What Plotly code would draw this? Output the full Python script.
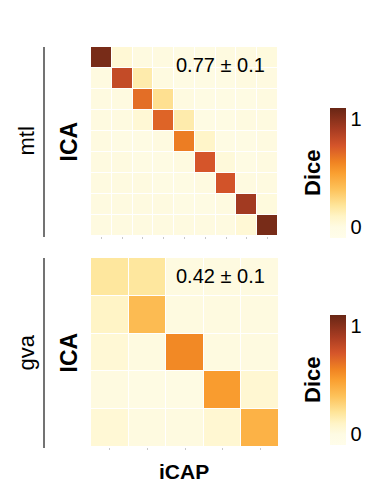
import plotly.graph_objects as go

# ---- data ----
mtl_dice = [
    [1.05, 0.05, 0.01, 0.01, 0.00, 0.00, 0.01, 0.01, 0.02],
    [0.01, 0.81, 0.16, 0.01, 0.00, 0.00, 0.00, 0.01, 0.01],
    [0.01, 0.01, 0.67, 0.22, 0.01, 0.00, 0.00, 0.00, 0.01],
    [0.01, 0.01, 0.05, 0.70, 0.16, 0.00, 0.00, 0.01, 0.01],
    [0.01, 0.00, 0.00, 0.01, 0.62, 0.09, 0.00, 0.00, 0.01],
    [0.01, 0.01, 0.00, 0.00, 0.01, 0.75, 0.03, 0.00, 0.01],
    [0.01, 0.01, 0.01, 0.00, 0.00, 0.01, 0.76, 0.01, 0.01],
    [0.01, 0.01, 0.01, 0.01, 0.00, 0.00, 0.01, 0.92, 0.02],
    [0.01, 0.01, 0.01, 0.01, 0.01, 0.01, 0.01, 0.05, 1.05],
]
gva_dice = [
    [0.19, 0.19, 0.01, 0.01, 0.01],
    [0.10, 0.38, 0.01, 0.01, 0.01],
    [0.05, 0.01, 0.58, 0.01, 0.01],
    [0.01, 0.00, 0.00, 0.51, 0.06],
    [0.05, 0.01, 0.01, 0.06, 0.42],
]
site_labels = ["mtl", "gva"]
score_labels = ["0.77 ± 0.1", "0.42 ± 0.1"]
cbar_ticks = [0, 1]

W, H = 365, 485
FONT = "Liberation Sans, Arial, sans-serif"

zmin, zmax = -0.1, 1.1
def p(v):
    return (v - zmin) / (zmax - zmin)

colorscale = [
    [p(-0.1), "#fffdea"],
    [p(0.0), "#fefbe3"],
    [p(0.1), "#fff4c6"],
    [p(0.2), "#fee59a"],
    [p(0.35), "#fdc25a"],
    [p(0.5), "#fa9f30"],
    [p(0.6), "#f08322"],
    [p(0.75), "#d5552a"],
    [p(0.9), "#a83c22"],
    [p(1.1), "#682615"],
]

def py(px):
    return 1 - px / H

def pxx(px):
    return px / W

fig = go.Figure()

panels = [
    dict(z=mtl_dice, xd=(91, 278), yd=(47, 236), cb=(108, 238), ax="", score=score_labels[0], site=site_labels[0]),
    dict(z=gva_dice, xd=(91, 279), yd=(258, 447), cb=(315, 445), ax="2", score=score_labels[1], site=site_labels[1]),
]

layout = dict(
    width=W, height=H,
    margin=dict(l=0, r=0, t=0, b=0),
    paper_bgcolor="white", plot_bgcolor="white",
    font=dict(family=FONT, size=20, color="black"),
    showlegend=False,
)
annotations = []
shapes = []

for pn in panels:
    n = len(pn["z"])
    cb_center = (pn["cb"][0] + pn["cb"][1]) / 2
    cb_len = (pn["cb"][1] - pn["cb"][0]) / H
    fig.add_trace(go.Heatmap(
        z=pn["z"], x=list(range(1, n + 1)), y=list(range(1, n + 1)),
        xaxis="x" + pn["ax"], yaxis="y" + pn["ax"],
        colorscale=colorscale, zmin=zmin, zmax=zmax,
        xgap=1, ygap=1, hoverinfo="skip",
        colorbar=dict(
            x=pxx(330), xanchor="left", y=py(cb_center), yanchor="middle",
            len=cb_len, lenmode="fraction", thickness=16, outlinewidth=0,
            xpad=0, ypad=0,
            tickvals=cbar_ticks, ticktext=[str(t) for t in cbar_ticks],
            ticks="", ticklabelposition="outside",
            tickfont=dict(family=FONT, size=20, color="black"),
        ),
    ))
    xa = "xaxis" + pn["ax"]
    ya = "yaxis" + pn["ax"]
    layout[xa] = dict(
        domain=[pxx(pn["xd"][0]), pxx(pn["xd"][1])], anchor="y" + pn["ax"],
        range=[0.5, n + 0.5], showgrid=False, zeroline=False,
        showticklabels=False, ticks="outside", ticklen=2, tickcolor="#c8c8c8",
        tickvals=list(range(1, n + 1)), showline=False,
    )
    layout[ya] = dict(
        domain=[py(pn["yd"][1]), py(pn["yd"][0])], anchor="x" + pn["ax"],
        range=[n + 0.5, 0.5], showgrid=False, zeroline=False,
        showticklabels=False, ticks="", showline=False,
    )
    yc = (pn["yd"][0] + pn["yd"][1]) / 2
    # score annotation
    annotations.append(dict(
        x=pxx(220.5), y=py(pn["yd"][0] + 18), xref="paper", yref="paper",
        text=pn["score"], showarrow=False, xanchor="center", yanchor="middle",
        font=dict(family=FONT, size=20, color="black"),
    ))
    # ICA label
    annotations.append(dict(
        x=pxx(68), y=py(yc), xref="paper", yref="paper",
        text="<b>ICA</b>", showarrow=False, textangle=-90,
        xanchor="center", yanchor="middle",
        font=dict(family=FONT, size=23, color="black"),
    ))
    # site label
    annotations.append(dict(
        x=pxx(26), y=py(yc), xref="paper", yref="paper",
        text=pn["site"], showarrow=False, textangle=-90,
        xanchor="center", yanchor="middle",
        font=dict(family=FONT, size=22, color="black"),
    ))
    # Dice label
    annotations.append(dict(
        x=pxx(312), y=py(cb_center), xref="paper", yref="paper",
        text="<b>Dice</b>", showarrow=False, textangle=-90,
        xanchor="center", yanchor="middle",
        font=dict(family=FONT, size=22, color="black"),
    ))
    # vertical separator line
    shapes.append(dict(
        type="line", xref="paper", yref="paper",
        x0=pxx(44), x1=pxx(44), y0=py(pn["yd"][0]), y1=py(pn["yd"][1] + 1),
        line=dict(color="#444444", width=1.5),
    ))

annotations.append(dict(
    x=pxx(184), y=py(471), xref="paper", yref="paper",
    text="<b>iCAP</b>", showarrow=False, xanchor="center", yanchor="middle",
    font=dict(family=FONT, size=21, color="black"),
))

layout["annotations"] = annotations
layout["shapes"] = shapes
fig.update_layout(**layout)
fig.write_html(
    "out.html",
    config={"displayModeBar": False, "staticPlot": True},
    post_script="document.body.style.margin='0px';document.body.style.overflow='hidden';",
)
